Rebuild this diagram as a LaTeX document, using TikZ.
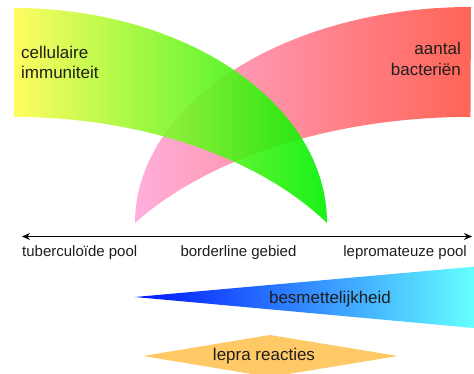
\documentclass[tikz,border=0pt]{standalone}
\usepackage{fontspec}
\setmainfont{Liberation Sans}
\usetikzlibrary{arrows.meta}
\definecolor{txt}{RGB}{30,30,30}
\definecolor{yel}{RGB}{255,252,80}
\definecolor{grn}{RGB}{0,240,0}
\definecolor{pnk}{RGB}{255,175,220}
\definecolor{sal}{RGB}{255,100,85}
\definecolor{dblue}{RGB}{0,20,255}
\definecolor{cyn}{RGB}{100,255,255}
\definecolor{org}{RGB}{255,201,102}
\tikzset{
  bandlabel/.style={inner sep=0pt, text=txt, font=\fontsize{17}{20}\selectfont},
  axislabel/.style={inner sep=0pt, text=txt, font=\fontsize{15}{18}\selectfont},
  axisline/.style={line width=1.3pt, black, {Stealth[length=8pt,width=7pt]}-{Stealth[length=8pt,width=7pt]}}
}
\begin{document}
\begin{tikzpicture}[x=1pt,y=1pt]
\useasboundingbox (0,0) rectangle (474,373);
\clip (0,0) rectangle (474,373);
% pink / red band (aantal bacterien)
\shade[left color=pnk, right color=sal]
  (471,366) arc[start angle=90, end angle=180, x radius=336, y radius=216]
  arc[start angle=147, end angle=90, x radius=400, y radius=233] -- cycle;
% yellow / green band (cellulaire immuniteit)
\shade[left color=yel, right color=grn, fill opacity=0.9]
  (14,365) arc[start angle=90, end angle=0, x radius=313, y radius=215]
  arc[start angle=33, end angle=90, x radius=373, y radius=233] -- cycle;
\node[bandlabel, anchor=base west] (ci1) at (21,314.7) {cellulaire};
\node[bandlabel, anchor=base west] (ci2) at (21,294.7) {immuniteit};
\node[bandlabel, anchor=base east] (ab1) at (461,318) {aantal};
\node[bandlabel, anchor=base east] (ab2) at (461,298) {bacteriën};
% axis
\coordinate (axL) at (22,136.5);
\coordinate (axR) at (472,136.5);
\draw[axisline] (axL) -- (axR);
\node[axislabel, anchor=base west] (tp) at (22,117) {tuberculoïde pool};
\node[axislabel, anchor=base] (bg) at (238.5,117) {borderline gebied};
\node[axislabel, anchor=base east] (lp) at (467,117) {lepromateuze pool};
% besmettelijkheid wedge
\shade[left color=dblue, right color=cyn] (135,76) -- (474,106.3) -- (474,45) -- cycle;
\node[bandlabel, anchor=base] (bes) at (330,69.7) {besmettelijkheid};
% lepra reacties diamond
\fill[org] (143,17) -- (270,38) -- (398,17) -- (270,-4) -- cycle;
\node[bandlabel, anchor=base] (lr) at (264,12.3) {lepra reacties};
\end{tikzpicture}
\end{document}
